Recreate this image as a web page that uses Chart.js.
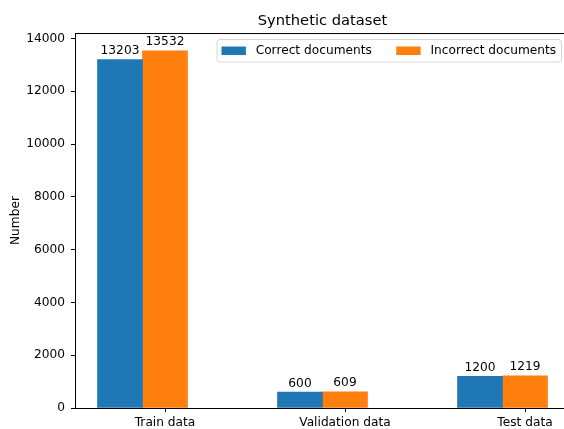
<!DOCTYPE html>
<html>
<head>
<meta charset="utf-8">
<script src="https://cdn.jsdelivr.net/npm/chart.js@4"></script>
<style>
  body { margin: 0; overflow: hidden; background: #fff; }
</style>
</head>
<body>
<canvas id="barChart" width="580" height="429"></canvas>
<script>
const categories = ['Train data', 'Validation data', 'Test data'];
const correctDocs = [13203, 600, 1200];
const incorrectDocs = [13532, 609, 1219];
const yTicks = [0, 2000, 4000, 6000, 8000, 10000, 12000, 14000];
const seriesNames = ['Correct documents', 'Incorrect documents'];
const seriesColors = ['#1f77b4', '#ff7f0e'];

const fontSize = 12.2;
Chart.defaults.font.family = 'DejaVu Sans';
Chart.defaults.font.size = fontSize;
Chart.defaults.color = '#000';

// blue bars sit one bar-width left of the category tick, orange on it
const barShift = [-0.25, 0];

// top/right spines, value labels and the matplotlib style legend box
const extras = {
  id: 'extras',
  afterDatasetsDraw(chart) {
    const { ctx, chartArea: { left, right, top, bottom } } = chart;
    ctx.save();
    ctx.strokeStyle = '#000';
    ctx.lineWidth = 1;
    ctx.beginPath();
    ctx.moveTo(left, top + 0.5);
    ctx.lineTo(right, top + 0.5);
    ctx.moveTo(right - 0.5, top);
    ctx.lineTo(right - 0.5, bottom);
    ctx.stroke();

    ctx.font = fontSize + 'px "DejaVu Sans"';
    ctx.fillStyle = '#000';
    ctx.textAlign = 'center';
    ctx.textBaseline = 'alphabetic';
    chart.data.datasets.forEach((ds, i) => {
      chart.getDatasetMeta(i).data.forEach((bar, j) => {
        ctx.fillText(String(ds.data[j].y), bar.x, bar.y - 5.5);
      });
    });

    // legend
    const em = fontSize;
    const handleW = 2 * em, handleH = 0.7 * em, textPad = 0.8 * em;
    const colSpace = 2 * em, borderPad = 0.4 * em, axesPad = 9;
    const widths = seriesNames.map(n => ctx.measureText(n).width);
    let boxW = 2 * borderPad + colSpace * (seriesNames.length - 1);
    widths.forEach(w => { boxW += handleW + textPad + w; });
    const boxH = 22.5;
    const bx = right - axesPad - boxW;
    const by = top + 6;
    ctx.beginPath();
    ctx.roundRect(bx + 0.5, by + 0.5, boxW, boxH, 2.5);
    ctx.fillStyle = 'rgba(255,255,255,0.8)';
    ctx.fill();
    ctx.strokeStyle = '#d6d6d6';
    ctx.stroke();

    let x = bx + borderPad;
    const cy = by + boxH / 2 + 0.5;
    ctx.textAlign = 'left';
    ctx.textBaseline = 'middle';
    seriesNames.forEach((name, i) => {
      ctx.fillStyle = seriesColors[i];
      ctx.fillRect(x, cy - handleH / 2, handleW, handleH);
      ctx.fillStyle = '#000';
      ctx.fillText(name, x + handleW + textPad, cy);
      x += handleW + textPad + widths[i] + colSpace;
    });
    ctx.restore();
  }
};

const ctx = document.getElementById('barChart').getContext('2d');

new Chart(ctx, {
  type: 'bar',
  data: {
    datasets: [
      {
        label: seriesNames[0],
        data: correctDocs.map((v, i) => ({ x: i + barShift[0], y: v })),
        backgroundColor: seriesColors[0],
        borderWidth: 0,
        categoryPercentage: 1,
        barPercentage: 1,
      },
      {
        label: seriesNames[1],
        data: incorrectDocs.map((v, i) => ({ x: i + barShift[1], y: v })),
        backgroundColor: seriesColors[1],
        borderWidth: 0,
        categoryPercentage: 1,
        barPercentage: 1,
      }
    ]
  },
  options: {
    responsive: false,
    animation: false,
    grouped: false,
    layout: { padding: { left: 0, right: 10, top: 0, bottom: 0 } },
    plugins: {
      legend: { display: false },
      tooltip: { enabled: false },
      title: {
        display: true,
        fullSize: false,
        text: 'Synthetic dataset',
        color: '#000',
        font: { size: 14.7, weight: 'normal' },
        padding: { top: 12, bottom: 3.4 }
      }
    },
    scales: {
      x: {
        type: 'linear',
        offset: false,
        min: -0.5,
        max: 2.25,
        grid: { offset: false, drawOnChartArea: false, tickLength: 4, tickColor: '#000' },
        border: { color: '#000', width: 1 },
        ticks: {
          padding: 3.5,
          autoSkip: false,
          maxRotation: 0,
          callback: (v) => categories[v]
        },
        afterBuildTicks: (axis) => {
          axis.ticks = categories.map((c, i) => ({ value: i }));
        },
        afterFit: (axis) => { axis.height = 21; }
      },
      y: {
        min: 0,
        max: 14208,
        grid: { drawOnChartArea: false, tickLength: 4, tickColor: '#000' },
        border: { color: '#000', width: 1 },
        ticks: {
          padding: 6,
          callback: (v) => String(v)
        },
        afterBuildTicks: (axis) => {
          axis.ticks = yTicks.map(v => ({ value: v }));
        },
        afterFit: (axis) => { axis.width = 75; },
        title: {
          display: true,
          text: 'Number',
          color: '#000',
          padding: { top: 8.5, bottom: 0 }
        }
      }
    }
  },
  plugins: [extras]
});
</script>
</body>
</html>
